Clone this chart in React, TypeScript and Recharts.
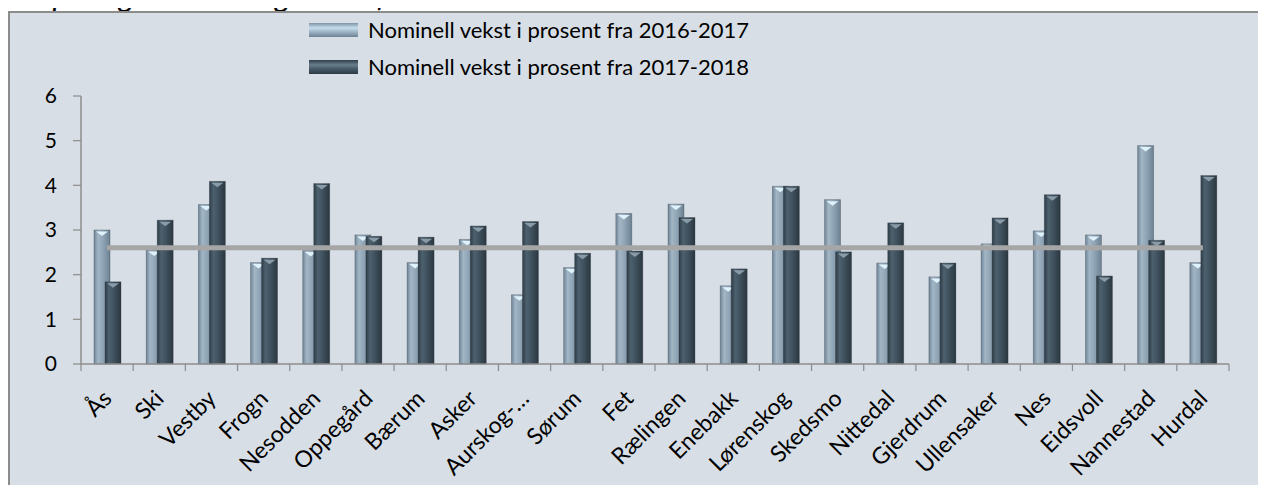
import React from 'react';
import { ComposedChart, Bar, Line, XAxis, YAxis, Legend } from 'recharts';

const kommuner = [
  'Ås', 'Ski', 'Vestby', 'Frogn', 'Nesodden', 'Oppegård', 'Bærum', 'Asker', 'Aurskog-…', 'Sørum', 'Fet',
  'Rælingen', 'Enebakk', 'Lørenskog', 'Skedsmo', 'Nittedal', 'Gjerdrum', 'Ullensaker', 'Nes', 'Eidsvoll', 'Nannestad', 'Hurdal',
];
const vekst1617 = [3.0, 2.55, 3.57, 2.27, 2.54, 2.89, 2.27, 2.79, 1.55, 2.16, 3.37, 3.58, 1.75, 3.98, 3.68, 2.26, 1.95, 2.69, 2.98, 2.89, 4.89, 2.27];
const vekst1718 = [1.84, 3.22, 4.09, 2.37, 4.04, 2.86, 2.84, 3.09, 3.19, 2.48, 2.53, 3.28, 2.13, 3.98, 2.51, 3.16, 2.26, 3.27, 3.79, 1.97, 2.77, 4.22];
const snitt = [2.6, 2.6, 2.6, 2.6, 2.6, 2.6, 2.6, 2.6, 2.6, 2.6, 2.6, 2.6, 2.6, 2.6, 2.6, 2.6, 2.6, 2.6, 2.6, 2.6, 2.6, 2.6];
const yTicks = [0, 1, 2, 3, 4, 5, 6];

const data = kommuner.map((navn, i) => ({
  navn,
  v1: vekst1617[i],
  v2: vekst1718[i],
  snitt: snitt[i],
}));

const FONT = 'Lato, "Open Sans", sans-serif';
const CHART_W = 1252;
const CHART_H = 480;
const MARGIN = { top: 83, right: 33, left: 0, bottom: 29 };
const Y_W = 71;
const X_H = 100;
const BAND = (CHART_W - MARGIN.left - MARGIN.right - Y_W) / kommuner.length;
const AXIS = '#8c8c8c';

// sylinder-aktig søyle med liten fas på toppen
const makeBar = (grad: string, bevel: string) => (props: any) => {
  const { x, y, width, height } = props;
  if (!height || height <= 0) return null;
  return (
    <g>
      <rect x={x} y={y} width={width} height={height} fill={`url(#${grad})`} stroke="rgba(40,50,60,0.35)" strokeWidth={0.8} />
      <polygon
        points={`${x + 2},${y + 1.5} ${x + width - 2},${y + 1.5} ${x + width / 2},${y + 6}`}
        fill={bevel}
      />
    </g>
  );
};

const LightBar = makeBar('gLight', '#dff2fb');
const DarkBar = makeBar('gDark', '#8a9ba8');

const XTick = (props: any) => {
  const { x, payload, index } = props;
  const axisY = CHART_H - MARGIN.bottom - X_H;
  const left = x - BAND / 2;
  const tx = x + 6;
  const ty = axisY + 36;
  return (
    <g>
      <line x1={left} y1={axisY} x2={left} y2={axisY + 7} stroke={AXIS} strokeWidth={1.2} />
      {index === kommuner.length - 1 && (
        <line x1={x + BAND / 2} y1={axisY} x2={x + BAND / 2} y2={axisY + 7} stroke={AXIS} strokeWidth={1.2} />
      )}
      <text
        x={tx}
        y={ty}
        textAnchor="end"
        transform={`rotate(-45, ${tx}, ${ty})`}
        fontSize={23}
        fontFamily={FONT}
        fill="#000"
      >
        {payload.value}
      </text>
    </g>
  );
};

const LegendContent = () => (
  <div style={{ fontFamily: FONT, fontSize: 22, color: '#000' }}>
    {[
      { label: 'Nominell vekst i prosent fra 2016-2017', bg: 'linear-gradient(#7f95a7, #c4deec 35%, #a3b9ca 60%, #6d8395)' },
      { label: 'Nominell vekst i prosent fra 2017-2018', bg: 'linear-gradient(#2f3e49, #6a7e8c 35%, #4a5d6b 60%, #2c3a44)' },
    ].map((r) => (
      <div key={r.label} style={{ display: 'flex', alignItems: 'center', height: 37 }}>
        <div style={{ width: 49, height: 14, background: r.bg, marginRight: 10 }} />
        <span style={{ whiteSpace: 'nowrap' }}>{r.label}</span>
      </div>
    ))}
  </div>
);

export default function App() {
  return (
    <div style={{ position: 'relative', margin: -8, width: 1266, height: 493, overflow: 'hidden', background: '#fff' }}>
      <div
        style={{
          position: 'absolute',
          left: 0,
          top: -20,
          fontFamily: FONT,
          fontStyle: 'italic',
          fontSize: 31,
          lineHeight: '31px',
          whiteSpace: 'nowrap',
          color: '#000',
        }}
      >
        innsparinger i 2018 og årene framover
      </div>
      <div
        style={{
          position: 'absolute',
          left: 8,
          top: 11,
          width: 1252,
          height: 500,
          border: '2px solid #8c8c8c',
          background: '#d7dee5',
        }}
      >
        <ComposedChart width={CHART_W} height={CHART_H} data={data} margin={MARGIN} barSize={16} barGap={-5}>
          <defs>
            <linearGradient id="gLight" x1="0" y1="0" x2="1" y2="0">
              <stop offset="0%" stopColor="#6f8597" />
              <stop offset="25%" stopColor="#a2b6c5" />
              <stop offset="60%" stopColor="#8ca1b2" />
              <stop offset="100%" stopColor="#6c8192" />
            </linearGradient>
            <linearGradient id="gDark" x1="0" y1="0" x2="1" y2="0">
              <stop offset="0%" stopColor="#2e3c46" />
              <stop offset="25%" stopColor="#4d606e" />
              <stop offset="60%" stopColor="#3d4f5b" />
              <stop offset="100%" stopColor="#2b3740" />
            </linearGradient>
          </defs>
          <XAxis
            dataKey="navn"
            interval={0}
            height={X_H}
            tickLine={false}
            axisLine={{ stroke: AXIS, strokeWidth: 1.5 }}
            tick={<XTick />}
          />
          <YAxis
            width={Y_W}
            domain={[0, 6]}
            ticks={yTicks}
            tickSize={8}
            tickMargin={16}
            axisLine={{ stroke: AXIS, strokeWidth: 1.5 }}
            tickLine={{ stroke: AXIS, strokeWidth: 1.2 }}
            tick={{ fontSize: 21, fontFamily: FONT, fill: '#000' }}
          />
          <Legend
            layout="vertical"
            align="center"
            verticalAlign="middle"
            content={<LegendContent />}
            wrapperStyle={{ top: -2, left: 299, width: 'auto', height: 'auto' }}
          />
          <Bar dataKey="v1" name="Nominell vekst i prosent fra 2016-2017" shape={LightBar} isAnimationActive={false} />
          <Bar dataKey="v2" name="Nominell vekst i prosent fra 2017-2018" shape={DarkBar} isAnimationActive={false} />
          <Line
            dataKey="snitt"
            stroke="#a6a6a6"
            strokeWidth={5}
            dot={false}
            activeDot={false}
            legendType="none"
            isAnimationActive={false}
          />
        </ComposedChart>
      </div>
    </div>
  );
}
